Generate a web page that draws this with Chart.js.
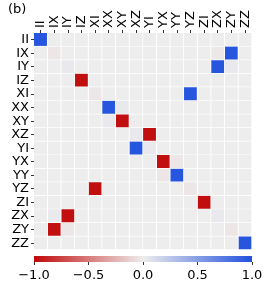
<!DOCTYPE html>
<html><head><meta charset="utf-8">
<script src="https://cdn.jsdelivr.net/npm/chart.js@4/dist/chart.umd.min.js"></script>
<style>
html,body{margin:0;padding:0;background:#fff;}
#wrap{position:relative;width:273px;height:293px;overflow:hidden;}
#lbl{position:absolute;left:8px;top:1px;font:13px "DejaVu Sans";color:#000;}
#main{position:absolute;left:0;top:0;}
#cbar{position:absolute;left:0;top:252px;}
</style></head><body>
<div id="wrap">
<canvas id="main" width="273" height="252"></canvas>
<canvas id="cbar" width="273" height="41"></canvas>
<div id="lbl">(b)</div>
</div>
<script>
const rowLabels = ["II","IX","IY","IZ","XI","XX","XY","XZ","YI","YX","YY","YZ","ZI","ZX","ZY","ZZ"];
const colLabels = ["II","IX","IY","IZ","XI","XX","XY","XZ","YI","YX","YY","YZ","ZI","ZX","ZY","ZZ"];
// matrix values, one row per row label (columns in colLabels order)
const valII = [ 0.97,0,0,0,0,0,0,0,0,0,0,0,0,0,0,0];
const valIX = [0,-0.03,0,0,0,0,0,0,0,0,0,0,0,-0.02,0.97,0];
const valIY = [0,0,0.03,0,0,0,0,0,0,0,0,0,0,0.97,0.03,0];
const valIZ = [0,0,0,-0.97,0,0,0,0,0,0,0,0,0,0,0,0];
const valXI = [0,0,0,0,-0.03,0,0,0,0,0,0,0.97,0,0,0,0];
const valXX = [0,0,0,0,0,0.97,0.03,0,0,0,0,0,0,0,0,0];
const valXY = [0,0,0,0,0,0.03,-0.97,0,0,0,0,0,0,0,0,0];
const valXZ = [0,0,0,0,0,0,0,0.03,-0.97,0,0,0,0,0,0,0];
const valYI = [0,0,0,0,0,0,0,0.97,0.03,0,0,0,0,0,0,0];
const valYX = [0,0,0,0,0,0,0,0,0,-0.97,-0.03,0,0,0,0,0];
const valYY = [0,0,0,0,0,0,0,0,0,-0.03,0.97,0,0,0,0,0];
const valYZ = [0,0,0,0,-0.97,0,0,0,0,0,0,-0.03,0,0,0,0];
const valZI = [0,0,0,0,0,0,0,0,0,0,0,0,-0.97,0,0,0];
const valZX = [0,0.02,-0.97,0,0,0,0,0,0,0,0,0,0,0.03,0,0];
const valZY = [0,-0.97,-0.03,0,0,0,0,0,0,0,0,0,0,0,-0.03,0];
const valZZ = [0,0,0,0,0,0,0,0,0,0,0,0,0,0,0,0.97];
const matrixRows = [valII,valIX,valIY,valIZ,valXI,valXX,valXY,valXZ,valYI,valYX,valYY,valYZ,valZI,valZX,valZY,valZZ];
const colorbarTicks = [-1,-0.5,0,0.5,1];

const cNeg = [192,8,8], cMid = [238,237,237], cPos = [32,80,222];
function cmap(v){
  v = Math.max(-1, Math.min(1, v));
  const a = v < 0 ? cNeg : cPos, t = Math.abs(v);
  const c = cMid.map((m,k)=>Math.round(m + (a[k]-m)*t));
  return `rgb(${c[0]},${c[1]},${c[2]})`;
}

const FONT = {family:"DejaVu Sans", size:13};
Chart.defaults.font.family = "DejaVu Sans";
Chart.defaults.color = "#000";

const datasets = colLabels.map((cl, j) => ({
  label: cl,
  data: rowLabels.map(() => 1),
  backgroundColor: rowLabels.map((_, i) => cmap(matrixRows[i][j])),
  borderColor: "#fff",
  borderWidth: {top:0, left:0, right:1, bottom:1},
  borderSkipped: false,
  barPercentage: 1,
  categoryPercentage: 1
}));

new Chart(document.getElementById("main"), {
  type: "bar",
  data: {labels: rowLabels, datasets},
  options: {
    responsive: false, animation: false, indexAxis: "y",
    layout: {padding: {left: 0, right: 21, top: 0, bottom: 2}},
    plugins: {legend: {display: false}, tooltip: {enabled: false}},
    scales: {
      x: {
        type: "linear", position: "top", stacked: true, min: 0, max: colLabels.length,
        afterBuildTicks: s => { s.ticks = colLabels.map((_, i) => ({value: i + 0.5})); },
        afterFit: s => { s.height = 33; s.paddingLeft = 0; s.paddingRight = 0; },
        ticks: {autoSkip: false, minRotation: 90, maxRotation: 90, padding: 2, labelOffset: 15.6, font: FONT, color: "#000",
          callback: v => colLabels[Math.floor(v)]},
        grid: {drawOnChartArea: false, drawTicks: true, tickLength: 3, color: "#333"},
        border: {display: false}
      },
      y: {
        stacked: true,
        afterFit: s => { s.width = 34; s.paddingTop = 0; s.paddingBottom = 0; },
        ticks: {autoSkip: false, padding: 2, font: FONT, color: "#000"},
        grid: {drawOnChartArea: false, drawTicks: true, tickLength: 3, offset: false, color: "#333"},
        border: {display: false}
      }
    }
  }
});

new Chart(document.getElementById("cbar"), {
  type: "bar",
  data: {labels: ["cb"], datasets: [{
    data: [[colorbarTicks[0], colorbarTicks[colorbarTicks.length-1]]],
    backgroundColor: ctx => {
      const a = ctx.chart.chartArea; if (!a) return cmap(0);
      const g = ctx.chart.ctx.createLinearGradient(a.left, 0, a.right, 0);
      for (let k = 0; k <= 20; k++) { const v = -1 + k/10; g.addColorStop(k/20, cmap(v)); }
      return g;
    },
    borderWidth: 0, barPercentage: 1, categoryPercentage: 1
  }]},
  options: {
    responsive: false, animation: false, indexAxis: "y",
    layout: {padding: {left: 34, right: 21, top: 4, bottom: 0}},
    plugins: {legend: {display: false}, tooltip: {enabled: false}},
    scales: {
      x: {
        type: "linear", position: "bottom", min: -1, max: 1,
        afterBuildTicks: s => { s.ticks = colorbarTicks.map(v => ({value: v})); },
        afterFit: s => { s.height = 31; s.paddingLeft = 0; s.paddingRight = 0; },
        ticks: {padding: 3, font: FONT, color: "#000", maxRotation: 0,
          callback: v => (v < 0 ? "\u2212" : "") + Math.abs(v).toFixed(1)},
        grid: {drawOnChartArea: false, drawTicks: true, tickLength: 3, color: "#333"},
        border: {display: false}
      },
      y: {display: false}
    }
  }
});
</script>
</body></html>
